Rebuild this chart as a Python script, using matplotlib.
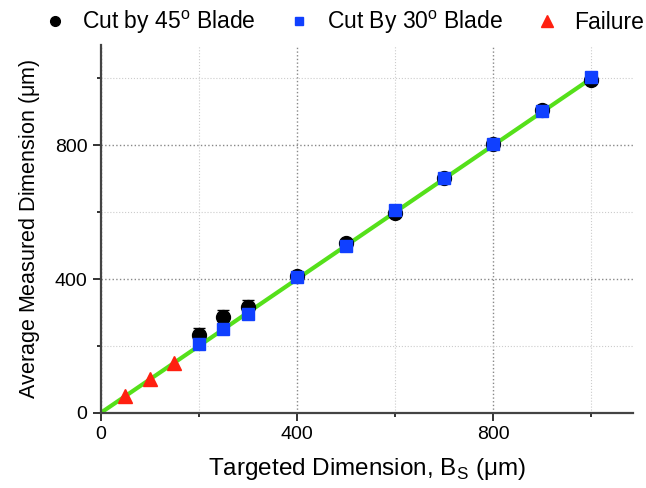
import numpy as np
import matplotlib
matplotlib.use("Agg")
import matplotlib.pyplot as plt
from matplotlib.lines import Line2D
from matplotlib.ticker import MultipleLocator

plt.rcParams["font.family"] = ["Liberation Sans", "DejaVu Sans"]

# data
target = [200, 250, 300, 400, 500, 600, 700, 800, 900, 1000]
blade45 = [232, 287, 316, 410, 508, 598, 703, 805, 905, 995]
blade45_err = [22, 20, 20, 8, 6, 6, 5, 5, 5, 5]
blade30 = [205, 250, 296, 405, 500, 605, 703, 805, 903, 1003]
fail_x = [50, 100, 150]
fail_y = [50, 100, 150]
ideal = [0, 1000]

fig = plt.figure(figsize=(6.46, 4.88), dpi=100)
ax = fig.add_axes([0.156, 0.154, 0.824, 0.754])

ax.plot(ideal, ideal, color="#55e01a", lw=3, zorder=2)
ax.errorbar(target, blade45, yerr=blade45_err, fmt="o", color="black",
            ms=10, capsize=4, elinewidth=1, zorder=3)
ax.plot(target, blade30, "s", color="#1040ff", ms=8, zorder=4)
ax.plot(fail_x, fail_y, "^", color="#ff2010", ms=10, zorder=4)

ax.set_xlim(0, 1085)
ax.set_ylim(0, 1100)
ax.xaxis.set_major_locator(MultipleLocator(400))
ax.yaxis.set_major_locator(MultipleLocator(400))
ax.xaxis.set_minor_locator(MultipleLocator(200))
ax.yaxis.set_minor_locator(MultipleLocator(200))
ax.grid(which="major", color="#888888", ls=":", lw=1)
ax.grid(which="minor", color="#cccccc", ls=":", lw=0.8)
ax.set_axisbelow(True)

for side in ["top", "right"]:
    ax.spines[side].set_visible(False)
for side in ["left", "bottom"]:
    ax.spines[side].set_linewidth(1.6)
    ax.spines[side].set_color("#444444")

ax.tick_params(which="both", direction="out", labelsize=14, width=1.4, color="#333333")
ax.tick_params(which="major", length=6)
ax.tick_params(which="minor", length=3)

ax.set_xlabel("Targeted Dimension, B$_\\mathregular{S}$ ($\\mathregular{\\mu}$m)", fontsize=17.5, labelpad=9)
ax.set_ylabel("Average Measured Dimension ($\\mathregular{\\mu}$m)", fontsize=15.5, labelpad=9)

handles = [
    Line2D([], [], ls="none", marker="o", color="black", ms=7),
    Line2D([], [], ls="none", marker="s", color="#1040ff", ms=6),
    Line2D([], [], ls="none", marker="^", color="#ff2010", ms=8),
]
labels = ["Cut by 45$^\\mathregular{o}$ Blade", "Cut By 30$^\\mathregular{o}$ Blade", "Failure"]
fig.legend(handles, labels, loc="upper center", bbox_to_anchor=(0.532, 1.01), ncol=3,
           frameon=False, fontsize=16.5, handlelength=1.0, handletextpad=0.7,
           columnspacing=1.4, borderaxespad=0.2)

fig.savefig("out.png", dpi=100)
